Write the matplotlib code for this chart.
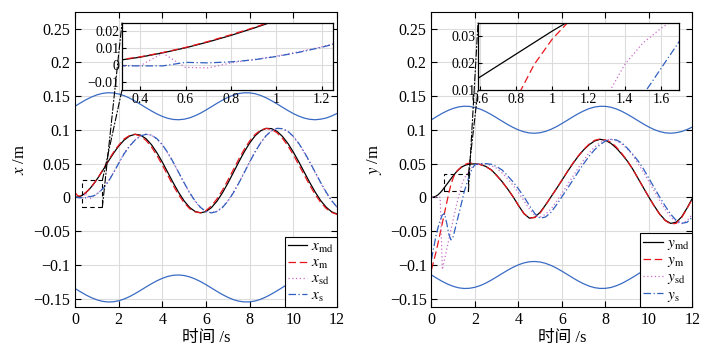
import numpy as np
import matplotlib
matplotlib.use("Agg")
import matplotlib.pyplot as plt
from matplotlib.patches import Rectangle, ConnectionPatch
from matplotlib.ticker import FuncFormatter

plt.rcParams['font.family'] = ['Liberation Serif', 'Noto Sans CJK SC']
plt.rcParams['mathtext.fontset'] = 'stix'

# time grid: 0.1 s up to 2 s, then 0.25 s
t = np.concatenate([np.arange(0, 2.01, 0.1), np.arange(2.25, 12.01, 0.25)])
t_bound = np.arange(0, 12.01, 0.25)

# ---- x direction ----
x_md = [0, .0003, .0012, .0026, .0046, .0072, .0102, .0137, .0176, .0219, .0265,
        .0313, .0364, .0415, .0468, .0520, .0572, .0622, .0670, .0716, .0759,
        .0849, .0909, .0934, .0922, .0869, .0781, .0661, .0521, .0368, .0214, .0070, -.0054,
        -.0150, -.0209, -.0230, -.0210, -.0151, -.0057, .0066, .0210, .0366, .0524, .0674, .0806,
        .0913, .0986, .1022, .1018, .0978, .0903, .0799, .0670, .0525, .0372, .0220, .0078,
        -.0047, -.0145, -.0214, -.0247]
x_m = [.0075, .0030, .0018, .0029, .0048, .0074, .0104, .0140, .0180, .0222, .0269,
       .0318, .0370, .0424, .0478, .0533, .0586, .0637, .0685, .0730, .0773,
       .0866, .0916, .0935, .0907, .0844, .0747, .0622, .0478, .0325, .0174, .0035, -.0081,
       -.0167, -.0215, -.0228, -.0194, -.0125, -.0023, .0106, .0254, .0410, .0566, .0711, .0836,
       .0933, .0996, .1021, .1007, .0957, .0874, .0763, .0629, .0482, .0330, .0180, .0043,
       -.0074, -.0164, -.0223, -.0252]
x_sd = [.0010, -.0002, -.0004, -.0005, -.0005, .0070, -.0015, -.0018, .0012, .0032, .0052,
        .0078, .0108, .0144, .0184, .0229, .0279, .0334, .0392, .0449, .0508,
        .0655, .0765, .0853, .0911, .0935, .0920, .0864, .0774, .0652, .0511, .0358, .0205,
        .0062, -.0060, -.0154, -.0211, -.0229, -.0206, -.0145, -.0050, .0074, .0218, .0374, .0531,
        .0680, .0811, .0916, .0988, .1022, .1016, .0974, .0897, .0792, .0662, .0516, .0364,
        .0212, .0071, -.0052, -.0148]
x_s = [.0010, -.0002, -.0005, -.0005, -.0006, -.0006, .0015, .0012, .0018, .0030, .0050,
       .0075, .0105, .0140, .0180, .0225, .0275, .0330, .0388, .0445, .0505,
       .0646, .0759, .0849, .0909, .0934, .0922, .0869, .0781, .0661, .0521, .0368, .0214,
       .0070, -.0054, -.0150, -.0209, -.0230, -.0210, -.0151, -.0057, .0066, .0210, .0366, .0524,
       .0674, .0806, .0913, .0986, .1022, .1018, .0978, .0903, .0799, .0670, .0525, .0372,
       .0220, .0078, -.0047, -.0145]
x_upper = [.1350, .1399, .1446, .1486, .1518, .1540, .1550, .1547, .1532, .1506, .1470, .1426,
           .1378, .1328, .1280, .1236, .1199, .1171, .1154, .1150, .1158, .1178, .1209, .1248,
           .1294, .1343, .1393, .1440, .1481, .1515, .1538, .1549, .1548, .1535, .1510, .1475,
           .1432, .1385, .1335, .1286, .1241, .1203, .1174, .1156, .1150, .1158, .1175, .1205, .1243]
x_lower = [-.1350, -.1399, -.1446, -.1486, -.1518, -.1540, -.1550, -.1547, -.1532, -.1506, -.1470, -.1426,
           -.1378, -.1328, -.1280, -.1236, -.1199, -.1171, -.1154, -.1150, -.1158, -.1178, -.1209, -.1248,
           -.1294, -.1343, -.1393, -.1440, -.1481, -.1515, -.1538, -.1549, -.1548, -.1535, -.1510, -.1475,
           -.1432, -.1385, -.1335, -.1286, -.1241, -.1203, -.1174, -.1156, -.1150, -.1158, -.1175, -.1205, -.1243]

# ---- y direction ----
y_md = [0, .0004, .0016, .0038, .0068, .0105, .0148, .0191, .0234, .0277, .0320,
        .0360, .0395, .0425, .0450, .0468, .0481, .0489, .0494, .0495, .0495,
        .0488, .0458, .0408, .0325, .0232, .0125, .0010, -.0120, -.0240, -.0308, -.0295, -.0220,
        -.0110, .0010, .0130, .0255, .0380, .0500, .0610, .0705, .0780, .0835, .0860, .0845,
        .0800, .0730, .0640, .0540, .0420, .0280, .0140, .0000, -.0130, -.0250, -.0340, -.0385,
        -.0370, -.0290, -.0160, -.0010]
y_m = [-.1070, -.0950, -.0820, -.0680, -.0530, -.0380, -.0230, -.0080, .0065, .0195, .0290,
       .0362, .0400, .0430, .0460, .0480, .0495, .0505, .0508, .0505, .0500,
       .0485, .0455, .0405, .0320, .0230, .0125, .0010, -.0120, -.0240, -.0305, -.0300, -.0230,
       -.0115, .0010, .0130, .0255, .0385, .0505, .0615, .0710, .0790, .0845, .0865, .0850,
       .0820, .0745, .0650, .0545, .0420, .0280, .0140, .0000, -.0135, -.0255, -.0345, -.0395,
       -.0385, -.0300, -.0165, -.0020]
y_sd = [0, 0, 0, 0, 0, -.1070, -.0920, -.0770, -.0620, -.0470, -.0330,
        -.0180, -.0050, .0075, .0195, .0275, .0330, .0375, .0420, .0455, .0480,
        .0500, .0495, .0470, .0430, .0360, .0275, .0180, .0070, -.0050, -.0170, -.0265, -.0290,
        -.0250, -.0170, -.0060, .0060, .0185, .0310, .0435, .0555, .0660, .0745, .0810, .0850,
        .0860, .0840, .0790, .0720, .0630, .0500, .0370, .0230, .0090, -.0050, -.0180, -.0290,
        -.0365, -.0390, -.0345, -.0250]
y_s = [-.0920, -.0750, -.0580, -.0450, -.0340, -.0260, -.0240, -.0380, -.0550, -.0630, -.0580,
       -.0450, -.0320, -.0190, -.0060, .0080, .0180, .0280, .0370, .0440, .0485,
       .0500, .0500, .0490, .0455, .0405, .0320, .0230, .0125, .0010, -.0120, -.0240, -.0310,
       -.0290, -.0220, -.0110, .0010, .0130, .0255, .0380, .0500, .0610, .0705, .0780, .0835,
       .0860, .0850, .0810, .0730, .0640, .0540, .0420, .0280, .0140, .0000, -.0130, -.0250,
       -.0340, -.0385, -.0370, -.0290]
y_upper = [.1150, .1199, .1246, .1286, .1318, .1340, .1350, .1347, .1332, .1306, .1270, .1226,
           .1178, .1128, .1080, .1036, .0999, .0971, .0954, .0950, .0958, .0978, .1009, .1048,
           .1094, .1143, .1193, .1240, .1281, .1315, .1338, .1349, .1348, .1335, .1310, .1275,
           .1232, .1185, .1135, .1086, .1041, .1003, .0974, .0956, .0950, .0958, .0975, .1005, .1043]
y_lower = [-.1150, -.1199, -.1246, -.1286, -.1318, -.1340, -.1350, -.1347, -.1332, -.1306, -.1270, -.1226,
           -.1178, -.1128, -.1080, -.1036, -.0999, -.0971, -.0954, -.0950, -.0958, -.0978, -.1009, -.1048,
           -.1094, -.1143, -.1193, -.1240, -.1281, -.1315, -.1338, -.1349, -.1348, -.1335, -.1310, -.1275,
           -.1232, -.1185, -.1135, -.1086, -.1041, -.1003, -.0974, -.0956, -.0950, -.0958, -.0975, -.1005, -.1043]

styles = [dict(color='black', ls='-'),
          dict(color='#e8161b', ls=(0, (6, 3))),
          dict(color='#c86ec8', ls=(0, (1, 2))),
          dict(color='#2f5fbf', ls=(0, (6, 2, 1, 2)))]
bound_color = '#3a6bc4'


def fmt(v, pos):
    if abs(v) < 1e-9:
        return '0'
    return ('%g' % round(v, 4)).replace('-', '\u2212')


def panel(ax_rect, ins_rect, series, labels, upper, lower, ylab, zoom_x, zoom_y, ins_xt, ins_yt):
    ax = fig.add_axes(ax_rect)
    ax.plot(t_bound, upper, color=bound_color, lw=0.9)
    ax.plot(t_bound, lower, color=bound_color, lw=0.9)
    handles = []
    for s, st in zip(series, styles):
        h, = ax.plot(t, s, lw=0.9, **st)
        handles.append(h)
    ax.set_xlim(0, 12)
    ax.set_ylim(-0.162, 0.275)
    ax.set_xticks(range(0, 13, 2))
    ax.set_yticks([-0.15, -0.1, -0.05, 0, 0.05, 0.1, 0.15, 0.2, 0.25])
    ax.yaxis.set_major_formatter(FuncFormatter(fmt))
    ax.grid(True, color='#dcdcdc', lw=0.8)
    ax.set_axisbelow(True)
    ax.tick_params(direction='in', top=True, right=True, length=4, width=0.8, labelsize=11.5)
    for sp in ax.spines.values():
        sp.set_linewidth(0.8)
    ax.set_xlabel('时间 /s', fontsize=12, labelpad=2)
    ax.set_ylabel(ylab, fontsize=12, labelpad=4)
    leg = ax.legend(handles, labels, loc='lower right', borderaxespad=0, fancybox=False,
                    edgecolor='black', framealpha=1, fontsize=11, handlelength=1.3,
                    handletextpad=0.25, labelspacing=0.1, borderpad=0.2)
    leg.get_frame().set_linewidth(0.8)

    # zoom box
    ax.add_patch(Rectangle((zoom_x[0], zoom_y[0]), zoom_x[1] - zoom_x[0], zoom_y[1] - zoom_y[0],
                           fill=False, ls=(0, (4, 3)), lw=0.8, ec='black'))

    ins = fig.add_axes(ins_rect)
    for s, st in zip(series, styles):
        ins.plot(t, s, lw=0.9, **st)
    ins.set_xlim(*zoom_x)
    ins.set_ylim(*zoom_y)
    ins.set_xticks(ins_xt)
    ins.set_yticks(ins_yt)
    ins.xaxis.set_major_formatter(FuncFormatter(fmt))
    ins.yaxis.set_major_formatter(FuncFormatter(fmt))
    ins.grid(True, color='#dcdcdc', lw=0.8)
    ins.set_axisbelow(True)
    ins.tick_params(direction='in', length=3, width=0.8, labelsize=10, pad=2)
    for sp in ins.spines.values():
        sp.set_linewidth(0.9)

    # connector lines from the zoom box to the inset
    for a, b in [((zoom_x[1], zoom_y[0]), (0, 1)), ((zoom_x[1], zoom_y[1]), (0, 0))]:
        con = ConnectionPatch(xyA=a, coordsA=ax.transData, xyB=b, coordsB=ins.transAxes,
                              color='black', lw=0.8, ls=(0, (6, 2, 1, 2)))
        fig.add_artist(con)
    return ax, ins


fig = plt.figure(figsize=(7.27, 3.47), dpi=100)

panel([0.1032, 0.1161, 0.3604, 0.8501], [0.1678, 0.7406, 0.2902, 0.1931],
      [x_md, x_m, x_sd, x_s],
      [r'$x_{\rm md}$', r'$x_{\rm m}$', r'$x_{\rm sd}$', r'$x_{\rm s}$'],
      x_upper, x_lower, r'$x$ /m', (0.32, 1.25), (-0.015, 0.025),
      [0.4, 0.6, 0.8, 1.0, 1.2], [-0.01, 0, 0.01, 0.02])

panel([0.5935, 0.1161, 0.3590, 0.8501], [0.6575, 0.7406, 0.2765, 0.1931],
      [y_md, y_m, y_sd, y_s],
      [r'$y_{\rm md}$', r'$y_{\rm m}$', r'$y_{\rm sd}$', r'$y_{\rm s}$'],
      y_upper, y_lower, r'$y$ /m', (0.59, 1.7), (0.01, 0.035),
      [0.6, 0.8, 1.0, 1.2, 1.4, 1.6], [0.01, 0.02, 0.03])

fig.savefig('out.png', dpi=100)
